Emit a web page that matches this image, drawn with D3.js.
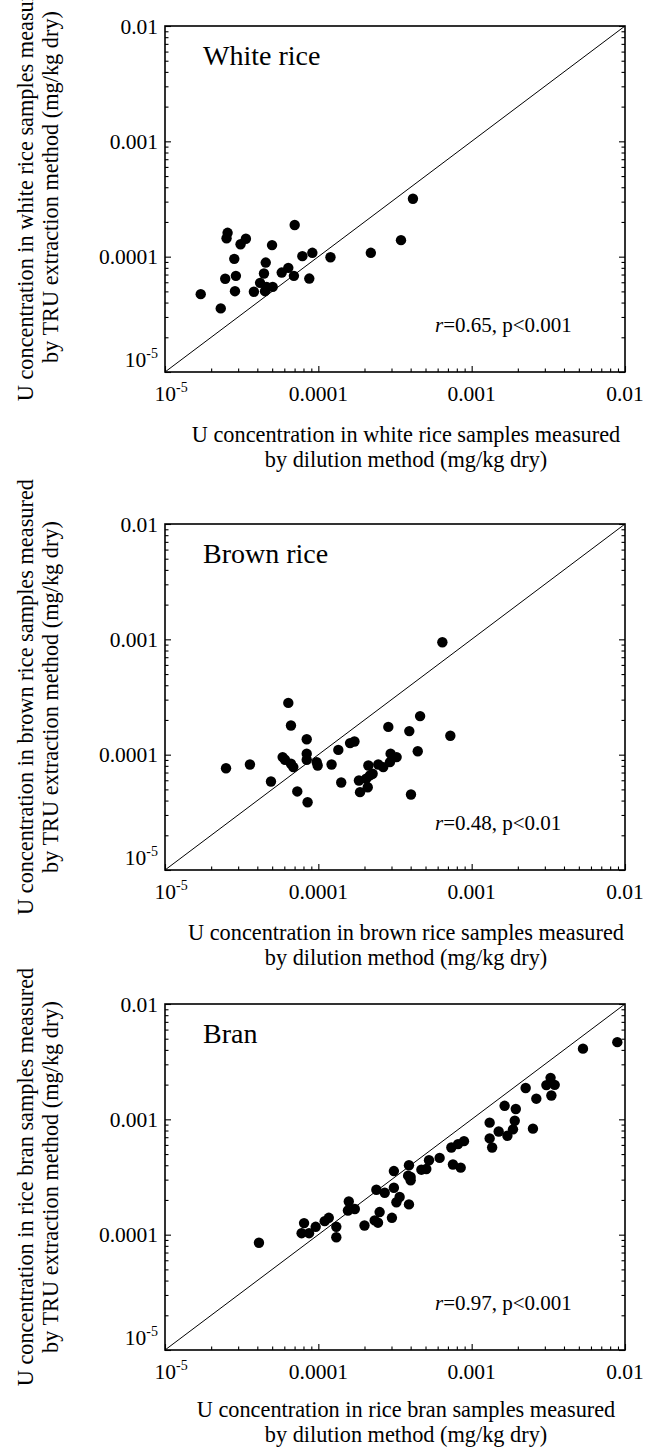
<!DOCTYPE html>
<html>
<head>
<meta charset="utf-8">
<script src="https://cdn.jsdelivr.net/npm/d3@7"></script>
<style>
  body { margin: 0; background: #fff; }
  svg { display: block; font-family: "Liberation Serif", "Times New Roman", Times, serif; }
</style>
</head>
<body>
<svg width="650" height="1448"></svg>
<script>
// values (mg/kg dry)
const whiteX = [1.71e-5, 2.31e-5, 2.47e-5, 2.52e-5, 2.56e-5, 2.83e-5, 2.90e-5, 2.86e-5, 3.11e-5, 3.37e-5,
  3.80e-5, 4.17e-5, 4.42e-5, 4.54e-5, 4.49e-5, 4.60e-5, 5.04e-5, 4.99e-5, 5.77e-5, 6.37e-5,
  6.93e-5, 7.01e-5, 7.87e-5, 8.73e-5, 9.14e-5, 1.20e-4, 2.20e-4, 3.46e-4, 4.14e-4];
const whiteY = [4.73e-5, 3.56e-5, 6.43e-5, 1.445e-4, 1.61e-4, 9.57e-5, 6.82e-5, 5.02e-5, 1.28e-4, 1.43e-4,
  4.96e-5, 5.93e-5, 7.14e-5, 8.89e-5, 5.02e-5, 5.47e-5, 5.47e-5, 1.26e-4, 7.28e-5, 8.0e-5,
  6.82e-5, 1.88e-4, 1.01e-4, 6.46e-5, 1.08e-4, 9.89e-5, 1.08e-4, 1.39e-4, 3.18e-4];

const brownX = [2.50e-5, 3.58e-5, 4.91e-5, 5.85e-5, 6.06e-5, 6.37e-5, 6.63e-5, 6.63e-5, 6.87e-5, 7.29e-5,
  8.40e-5, 8.40e-5, 8.40e-5, 8.51e-5, 9.76e-5, 9.90e-5, 1.22e-4, 1.35e-4, 1.41e-4, 1.61e-4,
  1.72e-4, 1.84e-4, 1.87e-4, 2.05e-4, 2.10e-4, 2.12e-4, 2.17e-4, 2.26e-4, 2.46e-4, 2.65e-4,
  2.86e-4, 2.93e-4, 2.96e-4, 3.24e-4, 3.92e-4, 4.02e-4, 4.45e-4, 4.61e-4, 6.44e-4, 7.26e-4];
const brownY = [7.63e-5, 8.22e-5, 5.85e-5, 9.53e-5, 9.03e-5, 2.81e-4, 1.79e-4, 8.34e-5, 7.80e-5, 4.80e-5,
  1.36e-4, 1.02e-4, 9.03e-5, 3.87e-5, 8.61e-5, 8.05e-5, 8.22e-5, 1.10e-4, 5.74e-5, 1.26e-4,
  1.30e-4, 5.97e-5, 4.73e-5, 6.18e-5, 5.22e-5, 8.05e-5, 6.61e-5, 6.83e-5, 8.22e-5, 7.80e-5,
  1.74e-4, 8.61e-5, 1.02e-4, 9.53e-5, 1.60e-4, 4.51e-5, 1.07e-4, 2.16e-4, 9.44e-4, 1.46e-4];

const branX = [4.10e-5, 7.78e-5, 8.07e-5, 8.70e-5, 9.61e-5, 1.10e-4, 1.17e-4, 1.31e-4, 1.31e-4, 1.58e-4,
  1.56e-4, 1.73e-4, 2.00e-4, 2.33e-4, 2.45e-4, 2.51e-4, 2.39e-4, 2.71e-4, 3.02e-4, 3.11e-4,
  3.11e-4, 3.23e-4, 3.39e-4, 3.85e-4, 3.90e-4, 3.90e-4, 4.00e-4, 4.00e-4, 4.70e-4, 5.06e-4,
  5.27e-4, 6.18e-4, 7.37e-4, 7.55e-4, 8.15e-4, 8.48e-4, 8.91e-4, 1.31e-3, 1.31e-3, 1.36e-3,
  1.50e-3, 1.64e-3, 1.71e-3, 1.86e-3, 1.91e-3, 1.94e-3, 2.25e-3, 2.51e-3, 2.64e-3, 3.07e-3,
  3.27e-3, 3.31e-3, 3.48e-3, 5.32e-3, 8.91e-3];
const branY = [8.51e-5, 1.03e-4, 1.26e-4, 1.03e-4, 1.17e-4, 1.31e-4, 1.40e-4, 1.17e-4, 9.49e-5, 1.94e-4,
  1.62e-4, 1.67e-4, 1.20e-4, 1.33e-4, 1.27e-4, 1.57e-4, 2.45e-4, 2.31e-4, 1.40e-4, 3.56e-4,
  2.55e-4, 1.91e-4, 2.12e-4, 3.25e-4, 4.00e-4, 1.83e-4, 2.96e-4, 3.16e-4, 3.66e-4, 3.71e-4,
  4.42e-4, 4.63e-4, 5.70e-4, 4.06e-4, 6.10e-4, 3.81e-4, 6.47e-4, 6.83e-4, 9.36e-4, 5.70e-4,
  7.85e-4, 1.31e-3, 7.21e-4, 8.19e-4, 9.73e-4, 1.23e-3, 1.87e-3, 8.30e-4, 1.51e-3, 1.98e-3,
  2.29e-3, 1.61e-3, 1.99e-3, 4.10e-3, 4.67e-3];

const tickVals = [1e-5, 1e-4, 1e-3, 1e-2];
const tickLabels = ["10", "0.0001", "0.001", "0.01"];
const tickSups = ["-5", "", "", ""];

const panels = [
  { top: 26, xs: whiteX, ys: whiteY, name: "White rice", stat: "=0.65, p<0.001", xOff: 70, yTitleShift: -12,
    xTitle: ["U concentration in white rice samples measured", "by dilution method (mg/kg dry)"],
    yTitle: ["U concentration in white rice samples measured", "by TRU extraction method (mg/kg dry)"] },
  { top: 524, xs: brownX, ys: brownY, name: "Brown rice", stat: "=0.48, p<0.01", xOff: 70, yTitleShift: 0,
    xTitle: ["U concentration in brown rice samples measured", "by dilution method (mg/kg dry)"],
    yTitle: ["U concentration in brown rice samples measured", "by TRU extraction method (mg/kg dry)"] },
  { top: 1004, xs: branX, ys: branY, name: "Bran", stat: "=0.97, p<0.001", xOff: 67, yTitleShift: 0,
    xTitle: ["U concentration in rice bran samples measured", "by dilution method (mg/kg dry)"],
    yTitle: ["U concentration in rice bran samples measured", "by TRU extraction method (mg/kg dry)"] }
];

const svg = d3.select("svg");
const left = 165, right = 625, plotH = 346;

// minor tick positions 2..9 in each decade
const minors = [];
[1e-5, 1e-4, 1e-3].forEach(d => { for (let k = 2; k <= 9; k++) minors.push(d * k); });

const noDomain = g => g.select(".domain").remove();

panels.forEach(p => {
  const bottom = p.top + plotH;
  const x = d3.scaleLog().domain([1e-5, 1e-2]).range([left, right]);
  const y = d3.scaleLog().domain([1e-5, 1e-2]).range([bottom, p.top]);
  const g = svg.append("g");

  // ticks (inward) on bottom, left, right
  const tickGroups = [
    [d3.axisBottom(x), `translate(0,${bottom})`],
    [d3.axisLeft(y), `translate(${left},0)`],
    [d3.axisRight(y), `translate(${right},0)`]
  ];
  tickGroups.forEach(([ax, tr]) => {
    g.append("g").attr("transform", tr)
      .call(ax.tickValues(minors).tickSize(-3.5).tickFormat(""))
      .call(noDomain);
    g.append("g").attr("transform", tr)
      .call(ax.tickValues(tickVals).tickSize(-6).tickFormat(""))
      .call(noDomain);
  });
  g.selectAll(".tick line").attr("stroke", "#000").attr("stroke-width", 1.1);

  // frame
  g.append("rect")
    .attr("x", left).attr("y", p.top)
    .attr("width", right - left).attr("height", plotH)
    .attr("fill", "none").attr("stroke", "#000").attr("stroke-width", 1.6);

  // 1:1 line
  g.append("line")
    .attr("x1", x(1e-5)).attr("y1", y(1e-5))
    .attr("x2", x(1e-2)).attr("y2", y(1e-2))
    .attr("stroke", "#000").attr("stroke-width", 1);

  // points
  g.selectAll("circle.pt")
    .data(p.xs.map((v, i) => [v, p.ys[i]]))
    .join("circle")
    .attr("class", "pt")
    .attr("cx", d => x(d[0]))
    .attr("cy", d => y(d[1]))
    .attr("r", 5.2)
    .attr("fill", "#000");

  // x tick labels
  tickVals.forEach((v, i) => {
    const t = g.append("text")
      .attr("y", bottom + 29)
      .style("font-size", "21.5px");
    if (tickSups[i]) {
      t.attr("x", x(v) - 10.5).attr("text-anchor", "start");
      t.append("tspan").text(tickLabels[i]);
      t.append("tspan").attr("dy", -9).style("font-size", "14px").text(tickSups[i]);
    } else {
      t.attr("x", x(v)).attr("text-anchor", "middle").text(tickLabels[i]);
    }
  });

  // y tick labels
  tickVals.forEach((v, i) => {
    const t = g.append("text")
      .attr("x", 158)
      .attr("text-anchor", "end")
      .style("font-size", "21.5px");
    if (tickSups[i]) {
      t.attr("y", y(v) - 5);
      t.append("tspan").text(tickLabels[i]);
      t.append("tspan").attr("dy", -9).style("font-size", "14px").text(tickSups[i]);
    } else {
      t.attr("y", y(v)).attr("dy", "0.35em").text(tickLabels[i]);
    }
  });

  // panel name and statistic
  g.append("text")
    .attr("x", left + 38).attr("y", p.top + 39)
    .style("font-size", "28px")
    .text(p.name);

  const s = g.append("text")
    .attr("x", 435).attr("y", bottom - 40)
    .style("font-size", "21px");
  s.append("tspan").style("font-style", "italic").text("r");
  s.append("tspan").text(p.stat);

  // axis titles
  p.xTitle.forEach((line, i) => {
    g.append("text")
      .attr("x", 406).attr("y", bottom + p.xOff + i * 25)
      .attr("text-anchor", "middle")
      .style("font-size", "22.3px")
      .text(line);
  });
  const cy = (p.top + bottom) / 2 + p.yTitleShift;
  p.yTitle.forEach((line, i) => {
    g.append("text")
      .attr("transform", `translate(${33 + i * 25},${cy}) rotate(-90)`)
      .attr("text-anchor", "middle")
      .style("font-size", "22.3px")
      .text(line);
  });
});
</script>
</body>
</html>
